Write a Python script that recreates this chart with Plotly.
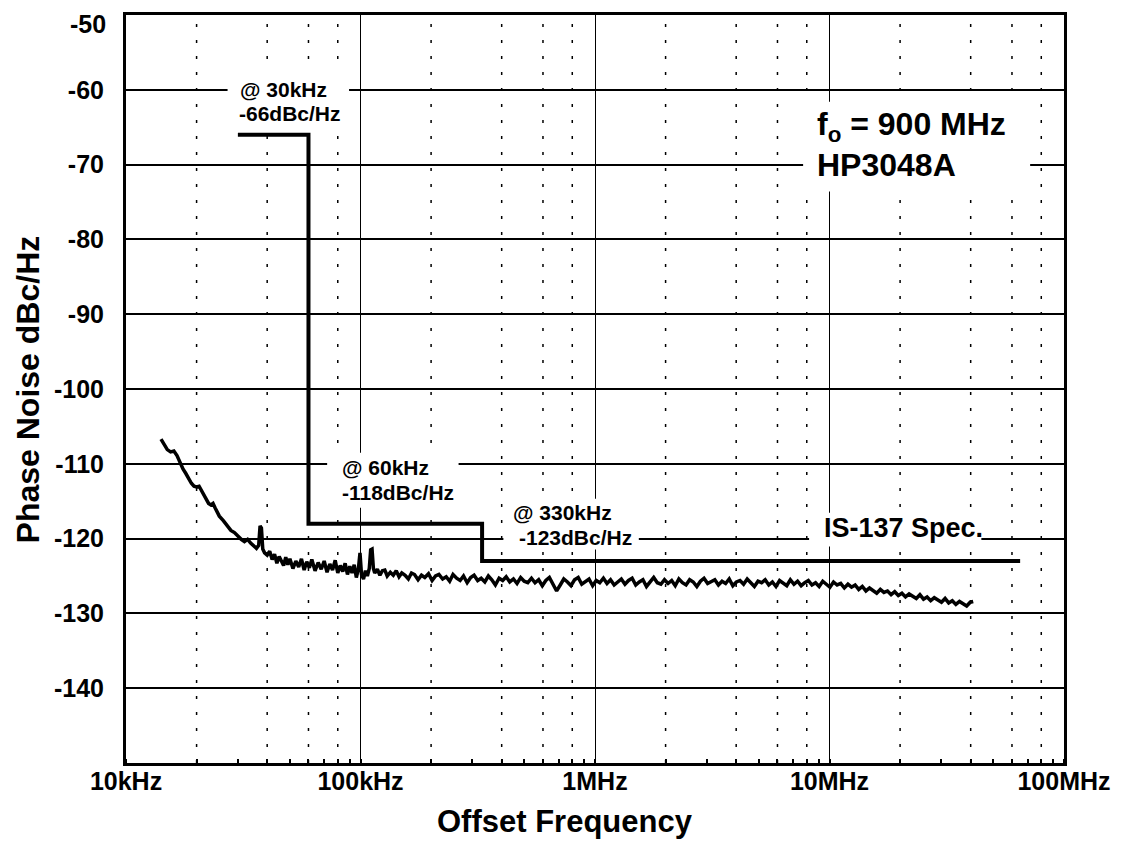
import plotly.graph_objects as go

# Measured single-sideband phase noise (offset in kHz, level in dBc/Hz)
freq_khz = [
    14.1, 14.5, 15.0, 15.5, 16.0, 16.5, 17.0, 17.5, 18.0, 18.5, 19.0, 19.5, 20.0, 20.5,
    21.0, 21.5, 22.0, 22.5, 23.0, 23.5, 24.0, 24.5, 25.0, 26.0, 27.0, 28.0, 29.0, 30.0,
    31.0, 32.0, 33.0, 34.0, 35.0, 36.0, 36.8, 37.3, 37.8, 38.3, 39.0, 40.0, 41.0, 42.0,
    43.0, 44.0, 45.0, 46.0, 47.0, 48.0, 49.0, 50.0, 51.5, 53.0, 54.5, 56.0, 57.5, 59.0,
    60.5, 62.0, 64.0, 66.0, 68.0, 70.0, 72.0, 74.0, 76.0, 78.0, 80.0, 82.0, 84.0, 86.0,
    88.0, 90.0, 92.0, 94.0, 96.0, 98.0, 99.5, 101.0, 103.0, 105.0, 107.0, 109.0, 110.5,
    112.0, 113.5, 115.0, 118.0, 121.0, 124.0, 127.0, 130.0, 134.0, 138.0, 142.0, 146.0,
    150.0, 155.0, 160.0, 165.0, 170.0, 176.0, 182.0, 188.0, 195.0, 202.0, 209.0, 216.0, 224.0,
    232.0, 240.0, 248.0, 257.0, 266.0, 275.0, 285.0, 295.0, 305.0, 316.0, 327.0, 339.0,
    351.0, 363.0, 376.0, 390.0, 404.0, 418.0, 433.0, 449.0, 465.0, 482.0, 499.0, 517.0,
    536.0, 555.0, 575.0, 596.0, 617.0, 639.0, 662.0, 686.0, 711.0, 736.0, 763.0, 790.0,
    818.0, 848.0, 878.0, 910.0, 943.0, 977.0, 1012, 1048, 1086, 1125, 1165, 1207, 1250,
    1295, 1342, 1390, 1440, 1492, 1545, 1601, 1658, 1718, 1780, 1844, 1910, 1978,
    2049, 2123, 2199, 2278, 2360, 2445, 2533, 2624, 2718, 2816, 2917, 3022, 3131,
    3243, 3360, 3481, 3606, 3735, 3870, 4009, 4153, 4302, 4457, 4617, 4783, 4955,
    5133, 5318, 5509, 5707, 5912, 6125, 6345, 6573, 6810, 7054, 7308, 7571, 7843,
    8125, 8417, 8720, 9033, 9358, 9695, 10043, 10404, 10778, 11166, 11568, 11984,
    12415, 12862, 13324, 13803, 14300, 14814, 15347, 15899, 16471, 17063, 17677, 18313,
    18971, 19653, 20360, 21092, 21851, 22636, 23450, 24294, 25167, 26072, 27010, 27981,
    28987, 30029, 31109, 32228, 33387, 34587, 35831, 37119, 38454, 39837, 41000,
]
noise_dbc = [
    -106.7, -107.3, -108.1, -108.4, -108.3, -108.9, -109.9, -110.7, -111.3, -112.0, -112.6, -113.0, -113.1, -113.0,
    -113.6, -114.3, -114.9, -115.3, -115.5, -115.3, -115.9, -116.6, -117.0, -117.6, -118.3, -118.9, -119.2, -119.7,
    -120.1, -120.4, -120.1, -120.6, -121.0, -121.3, -120.9, -118.3, -118.6, -121.4, -121.9, -122.2, -121.7, -122.8,
    -122.1, -123.3, -122.4, -123.1, -123.6, -122.5, -123.5, -122.7, -124.0, -123.0, -123.8, -122.7, -124.2, -123.1,
    -123.9, -122.8, -124.3, -123.2, -124.1, -123.0, -124.5, -123.4, -124.2, -122.9, -124.6, -123.6, -124.4, -123.3,
    -124.8, -123.7, -124.6, -123.5, -125.2, -124.0, -121.9, -124.8, -125.4, -124.3, -125.0, -124.0, -121.5,
    -121.4, -124.0, -124.6, -124.1, -124.9, -124.3, -124.2, -125.0, -124.5, -124.9, -124.3, -125.1,
    -124.6, -124.9, -125.4, -124.6, -124.8, -125.5, -124.9, -125.2, -124.7, -125.6, -125.0, -124.8, -125.4,
    -125.1, -125.7, -124.8, -125.3, -125.6, -125.0, -125.9, -125.2, -124.9, -125.6, -125.3, -125.8,
    -125.0, -125.5, -126.2, -125.3, -125.6, -125.1, -125.8, -125.4, -126.0, -125.2, -125.7, -125.9,
    -125.3, -125.9, -125.5, -126.3, -125.6, -125.2, -126.0, -127.0, -126.2, -125.4, -125.8, -126.3,
    -125.5, -125.2, -126.1, -125.7, -125.4, -126.3, -125.6, -125.9, -125.3, -126.0, -125.5, -126.2, -125.8,
    -125.4, -126.1, -125.6, -125.3, -126.2, -125.8, -125.5, -126.4, -125.7, -125.2, -125.9, -126.1, -125.5,
    -126.0, -125.6, -126.3, -125.4, -125.9, -126.2, -125.5, -125.8, -126.4, -125.7, -125.3, -126.0, -125.8,
    -125.5, -126.2, -125.7, -126.0, -125.4, -126.3, -125.8, -125.6, -126.1, -125.4, -125.9, -126.4, -125.7,
    -125.9, -125.5, -126.2, -125.8, -126.4, -125.6, -125.9, -126.3, -125.5, -126.1, -125.7, -126.3, -125.9,
    -125.6, -126.2, -125.9, -126.4, -125.7, -126.1, -126.5, -125.8, -126.2, -126.0, -126.6, -126.1,
    -126.5, -126.2, -126.8, -126.4, -127.0, -126.6, -126.9, -127.3, -126.8, -127.2, -127.0, -127.5,
    -127.1, -127.6, -127.3, -127.8, -127.4, -127.7, -128.0, -127.5, -128.1, -127.8, -128.3, -127.9,
    -128.2, -128.5, -128.0, -128.6, -128.3, -128.8, -128.4, -128.7, -129.0, -128.5, -128.4,
]
assert len(freq_khz) == len(noise_dbc)

# IS-137 spectral mask: corner offsets (Hz) and levels (dBc/Hz)
spec_freq_hz = [30e3, 60e3, 330e3, 65e6]
spec_level = [-66, -118, -123, -123]

# Axis labelling
x_tick_vals = [1e4, 1e5, 1e6, 1e7, 1e8]
x_tick_text = ["10kHz", "100kHz", "1MHz", "10MHz", "100MHz"]
y_tick_vals = [-140, -130, -120, -110, -100, -90, -80, -70, -60]
y_tick_text = ["-140", "-130", "-120", "-110", "-100", "-90", "-80", "-70", "-60"]
decades = [1e4, 1e5, 1e6, 1e7]
minor_grid_mult = [2, 4, 6, 8]

W, H = 1123, 853
L, R, T, B = 126, 1068, 13, 763
FONT = "Arial, Liberation Sans, Helvetica, sans-serif"


def px(x):
    return (x - L) / (R - L)


def py(y):
    return 1 - (y - T) / (B - T)


fig = go.Figure()

fig.add_trace(go.Scatter(
    x=[f * 1e3 for f in freq_khz], y=noise_dbc, mode="lines",
    line=dict(color="black", width=3.5), hoverinfo="skip", showlegend=False,
))
fig.add_trace(go.Scatter(
    x=spec_freq_hz, y=spec_level, mode="lines", line_shape="hv",
    line=dict(color="black", width=4), hoverinfo="skip", showlegend=False,
))

shapes = []
# dotted minor gridlines at 2, 4, 6, 8 x each decade
for d in decades:
    for m in minor_grid_mult:
        shapes.append(dict(
            type="line", xref="x", yref="paper", x0=d * m, x1=d * m, y0=0, y1=1,
            line=dict(color="black", width=1.5, dash="3px,13px"), layer="below",
        ))

# white panels behind the callout texts (interrupt the grid)
for x0, x1, y0, y1 in [
    (228, 350, 68, 123),
    (328, 460, 452, 507),
    (505, 641, 498, 549),
    (812, 985, 512, 546),
    (806, 1034, 100, 190),
]:
    shapes.append(dict(
        type="rect", xref="paper", yref="paper",
        x0=px(x0), x1=px(x1), y0=py(y1), y1=py(y0),
        fillcolor="white", line=dict(width=0), layer="above",
    ))


def label(text, x, y, size=21, anchor="left"):
    return dict(
        text=text, xref="paper", yref="paper", x=px(x), y=py(y),
        xanchor=anchor, yanchor="middle", showarrow=False,
        font=dict(family=FONT, size=size, color="black", weight="bold"),
    )


annotations = [
    label("@ 30kHz", 238, 88),
    label("-66dBc/Hz", 237, 112),
    label("@ 60kHz", 341, 467),
    label("-118dBc/Hz", 341, 492),
    label("@ 330kHz", 513, 512),
    label("-123dBc/Hz", 519, 537),
    label("IS-137 Spec.", 825, 527, size=27),
    label("f<sub>o</sub> = 900 MHz", 818, 125, size=32),
    label("HP3048A", 818, 163, size=32),
    label("-50", 108, 22, size=25, anchor="right"),
    dict(text="Phase Noise dBc/Hz", xref="paper", yref="paper", x=px(28), y=py(388),
         xanchor="center", yanchor="middle", textangle=-90, showarrow=False,
         font=dict(family=FONT, size=32, color="black", weight="bold")),
    dict(text="Offset Frequency", xref="paper", yref="paper", x=px(567), y=py(822),
         xanchor="center", yanchor="middle", showarrow=False,
         font=dict(family=FONT, size=31, color="black", weight="bold")),
]

fig.update_layout(
    width=W, height=H,
    margin=dict(l=L, r=W - R, t=T, b=H - B),
    paper_bgcolor="white", plot_bgcolor="white",
    shapes=shapes, annotations=annotations,
    xaxis=dict(
        type="log", range=[4, 8], tickvals=x_tick_vals, ticktext=x_tick_text,
        showgrid=True, gridcolor="black", gridwidth=1,
        showline=True, mirror=True, linecolor="black", linewidth=3,
        ticks="", ticklabelstandoff=-6,
        tickfont=dict(family=FONT, size=25, color="black", weight="bold"),
        minor=dict(ticks="inside", ticklen=4, tickcolor="black", tickwidth=1.5,
                   dtick="D1", showgrid=False),
        zeroline=False,
    ),
    yaxis=dict(
        range=[-150, -50], tickvals=y_tick_vals, ticktext=y_tick_text,
        showgrid=True, gridcolor="black", gridwidth=1.5,
        showline=True, mirror=True, linecolor="black", linewidth=3,
        ticks="", ticklabelstandoff=14,
        tickfont=dict(family=FONT, size=25, color="black", weight="bold"),
        zeroline=False,
    ),
)

fig.write_html("out.html")
